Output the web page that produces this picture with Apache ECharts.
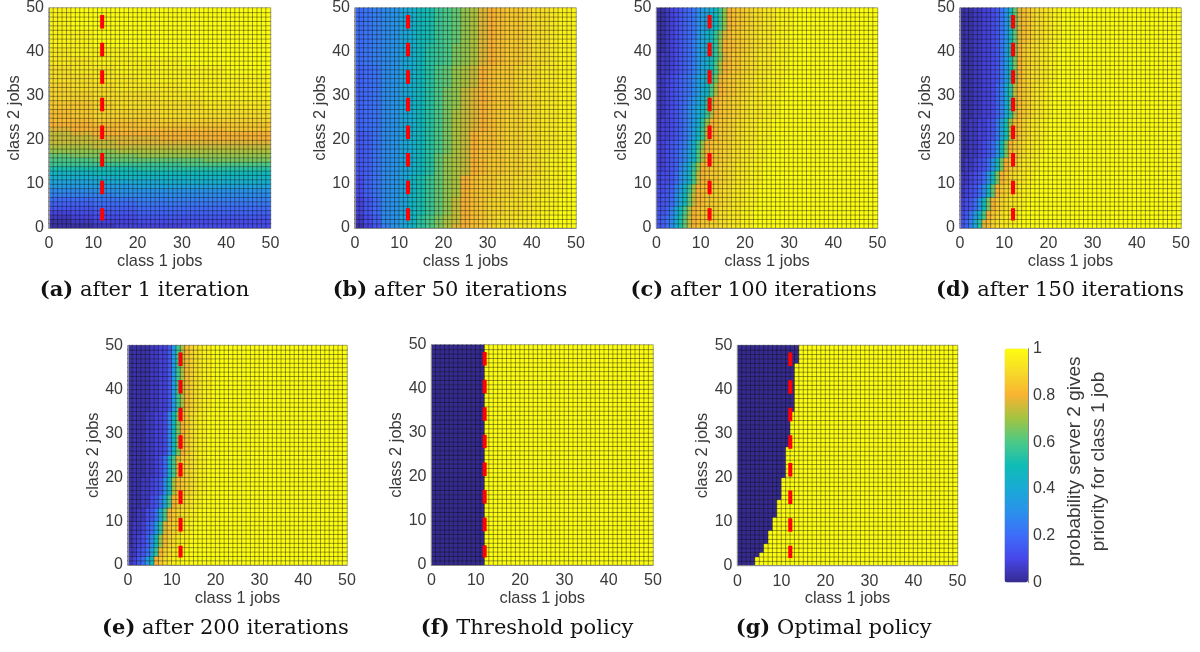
<!DOCTYPE html>
<html><head><meta charset="utf-8">
<style>html,body{margin:0;padding:0;background:#fff}#c{width:1200px;height:652px}</style>
<script src="https://cdn.jsdelivr.net/npm/echarts@6/dist/echarts.min.js"></script>
</head><body><div id="c"></div>
<script>
// Cell values. One character per block of cells, base 36: 0 = 0, z = 1.
// Rows run bottom-up. A row shorter than the grid keeps its last value to the right edge.
const rowsA = ["1123334444","1233444444","2344555555","3455666666","5566777777","6677888888","7788999999","999aaaaaaa","aabbbbbbbb","ccccdddddd","ddeeefffff","fffggggggg","gghhhhhhhh","iiiijjjjjj","kkkkkkllll","llmmmmmnnn","mnnnoooooo","oooppppppp","ppqqqqqqqq","qqqrrrrrrr","qqrrrsssss","qrssssssss","rsstttttuu","ssttuuuuuu","ttuuuvvvvv","tuvvvwwwww","uuvwwwwxxx","vvwwwxxyyy","vwwxxxyyyy","wwxxyyyyyy","wxxyyyyyzz","xxyyyyzzzz","xyyyzzzzzz","yyzzzzzzzz","yzzzzzzzzz"];
const spansA = [1,1,1,1,1,1,1,1,1,1,1,1,1,1,1,1,1,1,1,1,1,1,1,1,1,2,2,2,2,2,2,2,2,4,5];
const rowsB = ["1359bdgjlnprstuvwwxxyyzzz","246abdgjlnpqstuvwwxxyyzzz","357abdgikmoqstuvvwwxxyyzz","468abdgikmopstuuvvwwxxyyz","568abdfhjmopqstuuvvwwxyyz","568abdfhjlnpqsttuvvwwxxyy","678abdfhjlnpqrstuvvwwxxyy","678abdfhjlnoqrstuuvwwxxyy","678abdfhjlmopqstuuvwwxxyy","789abdfhjklnoprstuuvwwxyy","789abdfhiklmoprstuuvwwxyy"];
const spansB = [1,2,4,5,5,5,5,5,5,5,8];
const rowsC = ["567aeimqstuuvvwwxxxyyyz","5569dhlpstuuvvwwxxxyyyz","4557aehmqstuuvvwwxxxyyyz","44569cgkpstuuvvwwxxxyyyz","34457adglqstuuvvwwxxxyyyz","334569cfkostuuvvwwxxxyyyz","334568adglpstuuvvwwxxxyyyz","3345679cfkostuuvvwwxxxyyyz","2334568adgkpstuuvvwwxxxyyyz","23345 68acfjostuuvvwwxxxyyyz".replace(" ",""),"2234568acegkpstuuvvwwxxxyyyyz","22345679bdfjostuuvvwwxxxyyyyz","22345678aceglpstuuvvwwxxxyyyyz","22345678acegjnrtuuvvwwxxxyyyyz","122345679bdfhlpstuuvvwwxxxyyyyz","122345679bdfhknrtuuvvwwxxxyyyyz","112345679bdfhkosttuuvvwwxxxyyyyz","112345678bdfhknrtuuvvwwxxxyyyyz","112345678acdfhkostuuvvwwxxxyyyyz"];
const spansC = [3,2,3,2,3,2,3,2,3,2,3,2,3,2,3,2,3,2,5];
const rowsD = ["569ejrtvwxxyyz","458cglsuvwxxyyz","3457bhnsuvwxxyyz","23457agmsuvwxxyyz","223457bhnsuvwxxyyz","1223457bhnsuvwxxyyz","11223457bhnsuvwxxyyz","112233458diotuvwxxyyz","1112233469ejqtuvwxxyyz","1112233458chnsuvwwxxyyz","1112233458bgmrtuvwwxxyyz"];
const spansD = [2,2,3,3,3,3,4,5,8,9,8];
const rowsE = ["2357chsuwxyyz","22457dksvwxyyz","12346ahotvwxyyz","122357cjruvwxyyz","1122458elsuvwxyyz","11122458elsuvwxyyz","11122345ahptuvwxyyz","111122347flruvwxyyz","1111223349hnsuwxyyz","1111122335ckptvwxyyz"];
const spansE = [2,2,3,3,3,3,4,5,10,15];
const rowsF = ["000000000000z"];
const spansF = [50];
const rowsG = ["0000z","00000z","000000z","0000000z","00000000z","000000000z","0000000000z","00000000000z","000000000000z","0000000000000z","00000000000000z"];
const spansG = [2,1,2,3,3,4,5,7,8,11,4];
const columnBlocks = [5,2,1,1,1,1,1];
const captionLetters = ["(a)","(b)","(c)","(d)","(e)","(f)","(g)"];
const captionTexts = ["after 1 iteration","after 50 iterations","after 100 iterations","after 150 iterations","after 200 iterations","Threshold policy","Optimal policy"];
const axisTicks = [0,10,20,30,40,50];
const gridCells = 50;
const thresholdLine = [[12,48.4],[12,1.7]];
const colorStops = ["#352a8f","#4746e8","#3d6cfa","#2b90ec","#19aad6","#0fbcb6","#4cc987","#a0c442","#f8b332","#f7da29","#fdfd10"];
const colorbarName = "probability server 2 gives\npriority for class 1 job";

// Layout
const panels = [[49,7,221.5,221],[355,7.5,221,220.5],[656.5,7.5,221,220.5],[960,7,221,221],[128,345.5,219,219.5],[431.5,345,221.5,220],[737.5,345.5,220,220]];
const captionCentres = [[144.5,294],[450,294],[753.7,294],[1060,294],[225.5,632],[527,632],[833.7,632]];
const allRows = [rowsA,rowsB,rowsC,rowsD,rowsE,rowsF,rowsG];
const allSpans = [spansA,spansB,spansC,spansD,spansE,spansF,spansG];
const cats = Array.from({length:gridCells},(_,i)=>String(i));
const tickColor = '#3a3a3a', edge = '#8a8a8a';

function cells(rows, spans, colBlock){
  const out=[]; let y=0;
  rows.forEach((r,k)=>{
    for(let s=0;s<spans[k];s++,y++){
      for(let x=0;x<gridCells;x++){
        const ch=r[Math.min(Math.floor(x/colBlock),r.length-1)];
        out.push([x,y,parseInt(ch,36)/35]);
      }
    }
  });
  return out;
}
const grid=[],xAxis=[],yAxis=[],series=[],title=[];
panels.forEach((p,i)=>{
  grid.push({left:p[0],top:p[1],width:p[2],height:p[3]});
  xAxis.push({type:'category',gridIndex:i,data:cats,show:false});
  xAxis.push({type:'value',gridIndex:i,min:axisTicks[0],max:axisTicks[5],interval:10,position:'bottom',z:5,
    splitLine:{show:false},axisTick:{show:false},axisLine:{show:true,onZero:false,lineStyle:{color:edge,width:1}},
    axisLabel:{color:tickColor,fontSize:16,fontFamily:'Liberation Sans',margin:8,hideOverlap:false},
    name:'class 1 jobs',nameLocation:'middle',nameGap:25,nameTextStyle:{color:tickColor,fontSize:16.4,fontFamily:'Liberation Sans'}});
  yAxis.push({type:'category',gridIndex:i,data:cats,show:false});
  yAxis.push({type:'value',gridIndex:i,min:axisTicks[0],max:axisTicks[5],interval:10,position:'left',z:5,
    splitLine:{show:false},axisTick:{show:false},axisLine:{show:true,onZero:false,lineStyle:{color:edge,width:1}},
    axisLabel:{color:tickColor,fontSize:16,fontFamily:'Liberation Sans',margin:5,hideOverlap:false},
    name:'class 2 jobs',nameLocation:'middle',nameGap:21,nameRotate:90,nameTextStyle:{color:tickColor,fontSize:16.4,fontFamily:'Liberation Sans'}});
  series.push({type:'heatmap',xAxisIndex:2*i,yAxisIndex:2*i,data:cells(allRows[i],allSpans[i],columnBlocks[i]),
    progressive:0,animation:false,silent:true,emphasis:{disabled:true},
    itemStyle:{borderColor:'rgba(15,15,15,0.62)',borderWidth:0.6}});
  series.push({type:'line',xAxisIndex:2*i+1,yAxisIndex:2*i+1,data:thresholdLine,symbol:'none',silent:true,animation:false,z:6,
    lineStyle:{color:'#ff0000',width:4,type:[13.5,14.1],cap:'butt'}});
  title.push({left:captionCentres[i][0],top:captionCentres[i][1]-13.5,textAlign:'center',padding:0,
    text:'{b|'+captionLetters[i]+'} {n|'+captionTexts[i]+'}',
    textStyle:{fontWeight:'normal',fontFamily:'DejaVu Serif',fontSize:21,color:'#111',rich:{b:{fontFamily:'DejaVu Serif',fontWeight:'bold',fontSize:21,color:'#111'},n:{fontFamily:'DejaVu Serif',fontWeight:'normal',fontSize:21,color:'#111'}}}});
});
// Colour bar axis: a grid lying exactly over the visualMap strip
const cb=panels.length;
grid.push({left:1004.5,top:348.5,width:23.5,height:234});
xAxis.push({type:'value',gridIndex:cb,show:false,min:0,max:1});
yAxis.push({type:'value',gridIndex:cb,min:0,max:1,interval:0.2,position:'right',
  splitLine:{show:false},axisTick:{show:false},axisLine:{show:true,onZero:false,lineStyle:{color:edge,width:1}},
  axisLabel:{color:tickColor,fontSize:16,fontFamily:'Liberation Sans',margin:5,formatter:v=>String(+v.toFixed(1))},
  name:colorbarName,nameLocation:'middle',nameGap:35,nameRotate:90,
  nameTextStyle:{color:tickColor,fontSize:19,lineHeight:24,fontFamily:'Liberation Sans',align:'center',padding:[0,0,0,8]}});

const chart=echarts.init(document.getElementById('c'),null,{renderer:'canvas'});
chart.setOption({animation:false,backgroundColor:'#fff',grid,xAxis,yAxis,series,title,tooltip:{show:false},
  visualMap:{type:'continuous',min:0,max:1,dimension:2,seriesIndex:panels.map((_,i)=>2*i),
    left:1004.5,top:348.5,itemWidth:23.5,itemHeight:234,padding:0,calculable:false,orient:'vertical',
    inRange:{color:colorStops},hoverLink:false}});
</script></body></html>
